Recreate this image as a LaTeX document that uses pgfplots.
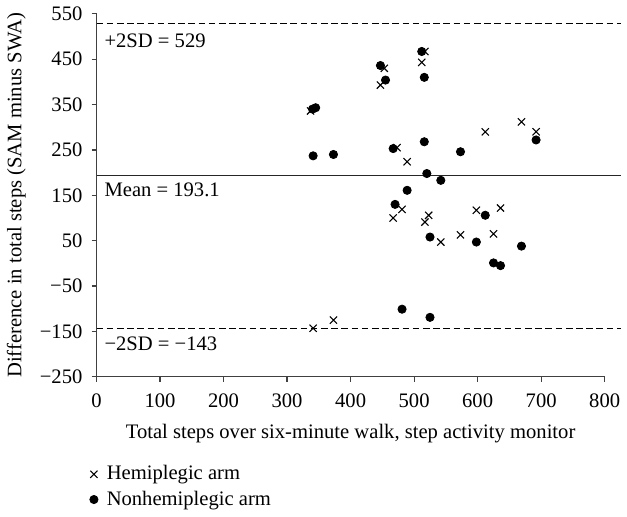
\documentclass[border=0pt]{standalone}
\usepackage{fontspec}
\setmainfont{Liberation Serif}
\usepackage{pgfplots}
\pgfplotsset{compat=1.18}
\begin{document}
\fontsize{10.5}{12.6}\selectfont
\begin{tikzpicture}
\begin{axis}[
  scale only axis, width=259pt, height=185pt,
  xmin=0, xmax=800, ymin=-250, ymax=550,
  axis x line*=bottom, axis y line*=left,
  axis line style={black!75, line width=0.6pt, -},
  xtick={0,100,...,800},
  ytick={-250,-150,...,550},
  yticklabels={−250,−150,−50,50,150,250,350,450,550},
  tick align=outside, major tick length=2.5pt,
  tick style={black!75, line width=0.6pt},
  /pgf/number format/assume math mode=true,
  tick label style={font=\fontsize{10.5}{12.6}\selectfont},
  xticklabel style={yshift=-2.5pt},
  yticklabel style={xshift=-1pt},
  label style={font=\fontsize{10.5}{12.6}\selectfont},
  xlabel style={yshift=-1pt},
  clip=false,
  xlabel={Total steps over six-minute walk, step activity monitor},
  ylabel={Difference in total steps (SAM minus SWA)},
  legend style={draw=none, fill=none, at={(axis description cs:-0.035,-0.222)}, anchor=north west,
    font=\fontsize{10.5}{12.6}\selectfont, row sep=0pt},
  legend image code/.code={\path (0,0) (0.3cm,0); \draw[#1] plot coordinates {(0.15cm,0cm)};},
  legend cell align=left,
]
% reference lines
\addplot[forget plot, black, line width=0.6pt, dash pattern=on 3.4pt off 1.8pt] coordinates {(0,529) (825,529)};
\addplot[forget plot, black!85, line width=0.7pt] coordinates {(0,193.1) (825,193.1)};
\addplot[forget plot, black, line width=0.6pt, dash pattern=on 3.4pt off 1.8pt] coordinates {(0,-143) (825,-143)};

\addplot[only marks, mark=x, mark size=2.6pt, black, line width=0.55pt] coordinates {
  (337,336) (453,430) (447,393) (517,467) (512,443) (473,255) (612,290)
  (669,312) (692,290) (489,224) (481,119) (467,100) (523,106) (517,91)
  (542,47) (573,63) (598,117) (636,122) (625,65) (341,-143) (373,-125)
};
\addlegendentry{Hemiplegic arm}

\addplot[only marks, mark=*, mark size=2.1pt, black] coordinates {
  (340,340) (345,343) (447,436) (455,404) (512,467) (516,410) (341,237)
  (373,240) (467,253) (516,268) (573,246) (692,272) (520,198) (542,183)
  (489,161) (470,130) (525,58) (612,106) (598,47) (669,38) (625,1)
  (636,-5) (481,-101) (525,-119)
};
\addlegendentry{Nonhemiplegic arm}

\node[anchor=west, inner sep=0pt] at (axis cs:12,491) {+2SD = 529};
\node[anchor=west, inner sep=0pt] at (axis cs:12,163) {Mean = 193.1};
\node[anchor=west, inner sep=0pt] at (axis cs:12,-178) {−2SD = −143};
\end{axis}
\end{tikzpicture}
\end{document}
